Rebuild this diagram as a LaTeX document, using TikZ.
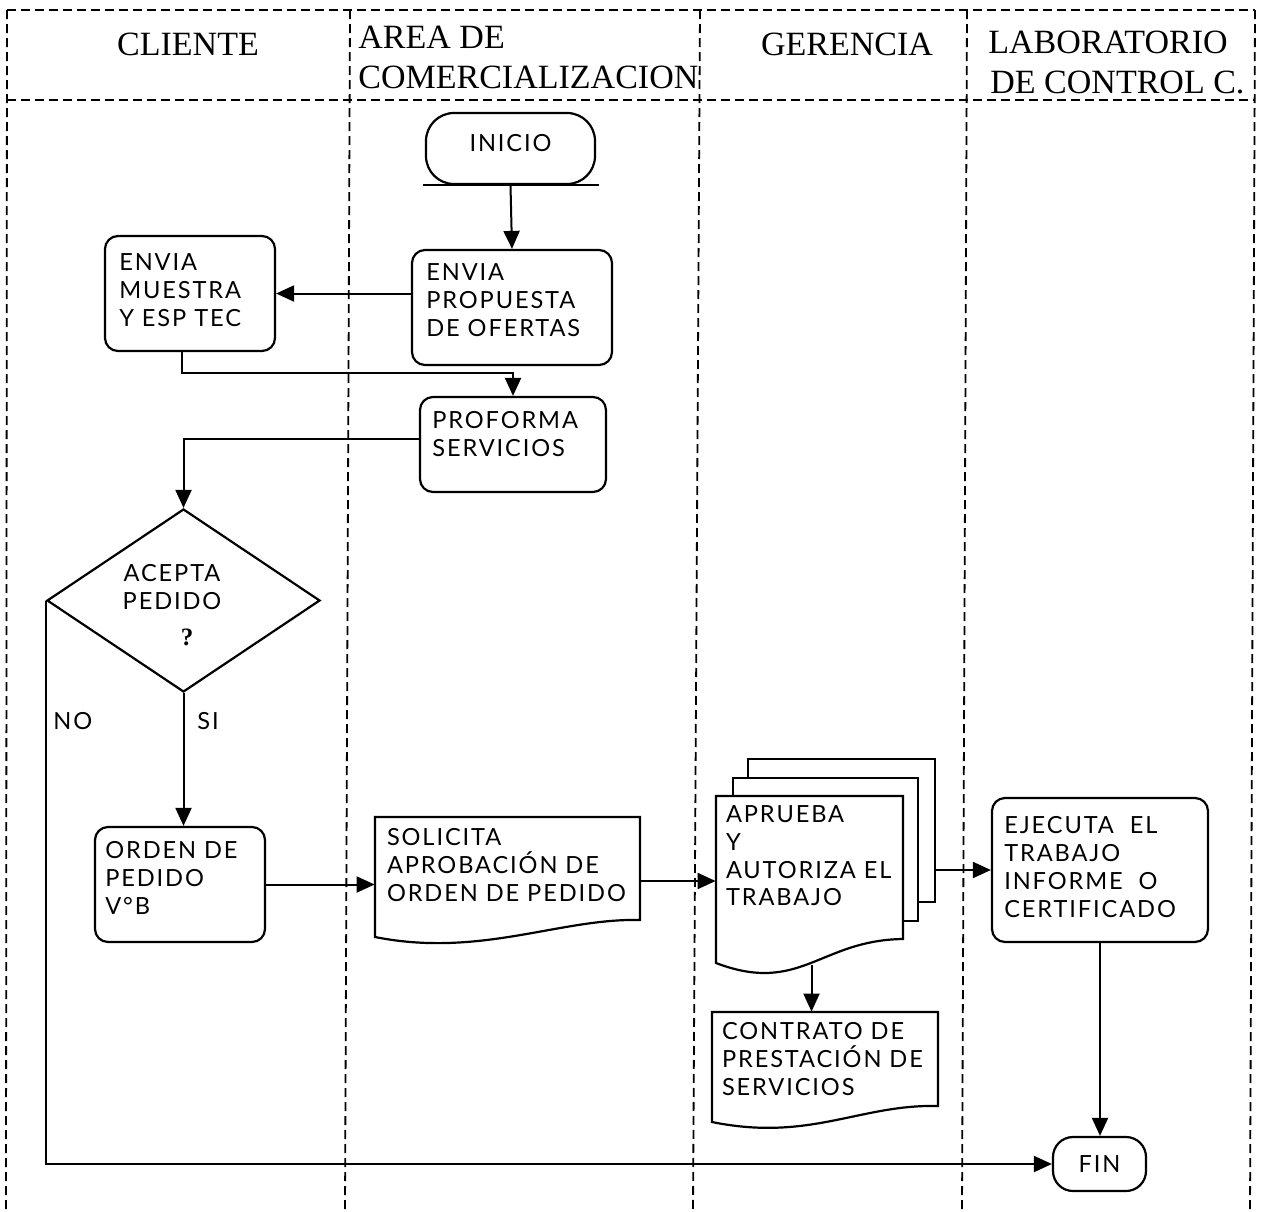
\documentclass[tikz,border=0pt]{standalone}
\usepackage{fontspec}
\setmainfont{Liberation Serif}
\newfontfamily\bodyfont[LetterSpace=8]{Lato}
\usetikzlibrary{arrows.meta,calc,shapes.geometric}

\begin{document}
\begin{tikzpicture}[x=0.5pt,y=-0.5pt,
  lane/.style={line width=0.9pt, dash pattern=on 4.5pt off 2.5pt},
  box/.style={draw, line width=1.1pt, rounded corners=6.5pt, inner sep=0pt},
  page/.style={draw, line width=1.1pt, fill=white, inner sep=0pt},
  doc/.style={draw, line width=1.1pt, fill=white, line join=miter},
  lbl/.style={font=\bodyfont\fontsize{11.8pt}{13.9pt}\selectfont, align=left, inner sep=0pt, anchor=north west},
  head/.style={font=\fontsize{17pt}{20pt}\selectfont, inner sep=0pt},
  flow/.style={line width=1pt, -{Triangle[length=9pt,width=8pt]}},
  link/.style={line width=1pt}]

\useasboundingbox (0,0) rectangle (1264,1211);

% swimlane frame
\draw[lane] (7,10) -- (1255,10);
\draw[lane] (7,100) -- (1255,100);
\draw[lane] (7,10) -- (6,1211);
\draw[lane] (350,10) -- (345,1211);
\draw[lane] (700,10) -- (693,1211);
\draw[lane] (967,10) -- (962,1211);
\draw[lane] (1255,10) -- (1250,1211);

% lane titles
\node[head, anchor=base] (h-cli) at (188,55) {CLIENTE};
\node[head, anchor=base west] (h-area1) at (358,48) {AREA DE};
\node[head, anchor=base west] (h-area2) at (358,88) {COMERCIALIZACION};
\node[head, anchor=base] (h-ger) at (847,55) {GERENCIA};
\node[head, anchor=base west] (h-lab1) at (988,53) {LABORATORIO};
\node[head, anchor=base west] (h-lab2) at (990,93) {DE CONTROL C.};

% start terminal
\node[draw, line width=1.1pt, rounded corners=14pt, minimum width=84.5pt, minimum height=35.5pt,
      inner sep=0pt, text depth=6pt, font=\bodyfont\fontsize{11.8pt}{12pt}\selectfont] (ini) at (510.5,148.5) {INICIO};
\draw[link] ($(ini.south west)+(-2,0)$) -- ($(ini.south east)+(3,0)$);

% process boxes
\node[box, minimum width=85pt, minimum height=57.5pt] (mue) at (190,293.5) {};
\node[lbl] (mue-t) at ($(mue.north west)+(15,18.5)$) {ENVIA\\MUESTRA\\Y ESP TEC};

\node[box, minimum width=100pt, minimum height=57.5pt] (prop) at (512,307.5) {};
\node[lbl] (prop-t) at ($(prop.north west)+(15,14.5)$) {ENVIA\\PROPUESTA\\DE OFERTAS};

\node[box, minimum width=93pt, minimum height=47.5pt] (prof) at (513,444.5) {};
\node[lbl] (prof-t) at ($(prof.north west)+(13,15.5)$) {PROFORMA\\SERVICIOS};

\node[box, minimum width=85pt, minimum height=57.5pt] (orden) at (180,884.5) {};
\node[lbl] (orden-t) at ($(orden.north west)+(11,15.5)$) {ORDEN DE\\PEDIDO\\V°B};

\node[box, minimum width=108pt, minimum height=72pt] (ejec) at (1100,870) {};
\node[lbl] (ejec-t) at ($(ejec.north west)+(13,19.5)$) {EJECUTA\ \ EL\\TRABAJO\\INFORME\ \ O\\CERTIFICADO};

% end terminal
\node[draw, line width=1.1pt, rounded corners=10pt, minimum width=46.5pt, minimum height=27pt,
      inner sep=0pt, font=\bodyfont\fontsize{11.8pt}{12pt}\selectfont] (fin) at (1099.5,1164) {FIN};

% decision
\node[draw, diamond, line width=1.1pt, minimum width=136.5pt, minimum height=91.5pt, inner sep=0pt] (dia) at (183.5,600.5) {};
\node[lbl, anchor=north, align=center] (dia-t) at (172,564) {ACEPTA\\PEDIDO};
\node[font=\bfseries\fontsize{12.5pt}{13pt}\selectfont, inner sep=0pt] (dia-q) at (187,637) {?};

% document: request for approval
\node[inner sep=0pt, minimum width=132.5pt, minimum height=64pt] (sol) at (507.5,881) {};
\draw[doc] (375,817) -- (640,817) -- (640,920) .. controls (560,918) and (480,958) .. (375,937) -- cycle;
\node[lbl] (sol-t) at ($(sol.north west)+(12,11.5)$) {SOLICITA\\APROBACIÓN DE\\ORDEN DE PEDIDO};

% multi-document: approval
\node[page, minimum width=93.5pt, minimum height=71.5pt] (apr-b2) at (841.5,830.5) {};
\node[page, minimum width=92.5pt, minimum height=71.5pt] (apr-b1) at (825.5,849.5) {};
\node[inner sep=0pt, minimum width=93.5pt, minimum height=90.5pt] (apr) at (809.5,886.5) {};
\draw[doc] (716,796) -- (903,796) -- (903,939) .. controls (820,940) and (800,995) .. (716,963) -- cycle;
\node[lbl] (apr-t) at ($(apr.north west)+(10,9.5)$) {APRUEBA\\Y\\AUTORIZA EL\\TRABAJO};

% document: contract
\node[inner sep=0pt, minimum width=113pt, minimum height=59pt] (contr) at (825,1071) {};
\draw[doc] (712,1012) -- (938,1012) -- (938,1106) .. controls (860,1104) and (810,1142) .. (712,1122) -- cycle;
\node[lbl] (contr-t) at ($(contr.north west)+(10,10.5)$) {CONTRATO DE\\PRESTACIÓN DE\\SERVICIOS};

% branch labels
\node[lbl] (no) at (53,712) {NO};
\node[lbl] (si) at (197,712) {SI};

% connectors
\draw[flow] (ini.south) -- (prop.north);
\draw[flow] (prop.west |- mue.east) -- (mue.east);
\draw[flow] ([xshift=-4pt]mue.south) -- ++(0,21) -| (prof.north);
\draw[flow] ([yshift=3pt]prof.west) -| (dia.north);
\draw[flow] (dia.south) -- (dia.south |- orden.north);
\draw[flow] (dia.west) -- (dia.west |- fin.west) -- (fin.west);
\draw[flow] (orden.east) -- (orden.east -| sol.west);
\draw[flow] (sol.east) -- (sol.east -| apr.west);
\draw[flow] (ejec.west -| apr-b2.east) -- (ejec.west);
\draw[flow] ([xshift=1pt,yshift=6pt]apr.south) -- ([xshift=1pt]apr.south |- contr.north);
\draw[flow] (ejec.south) -- (ejec.south |- fin.north);

\end{tikzpicture}
\end{document}
